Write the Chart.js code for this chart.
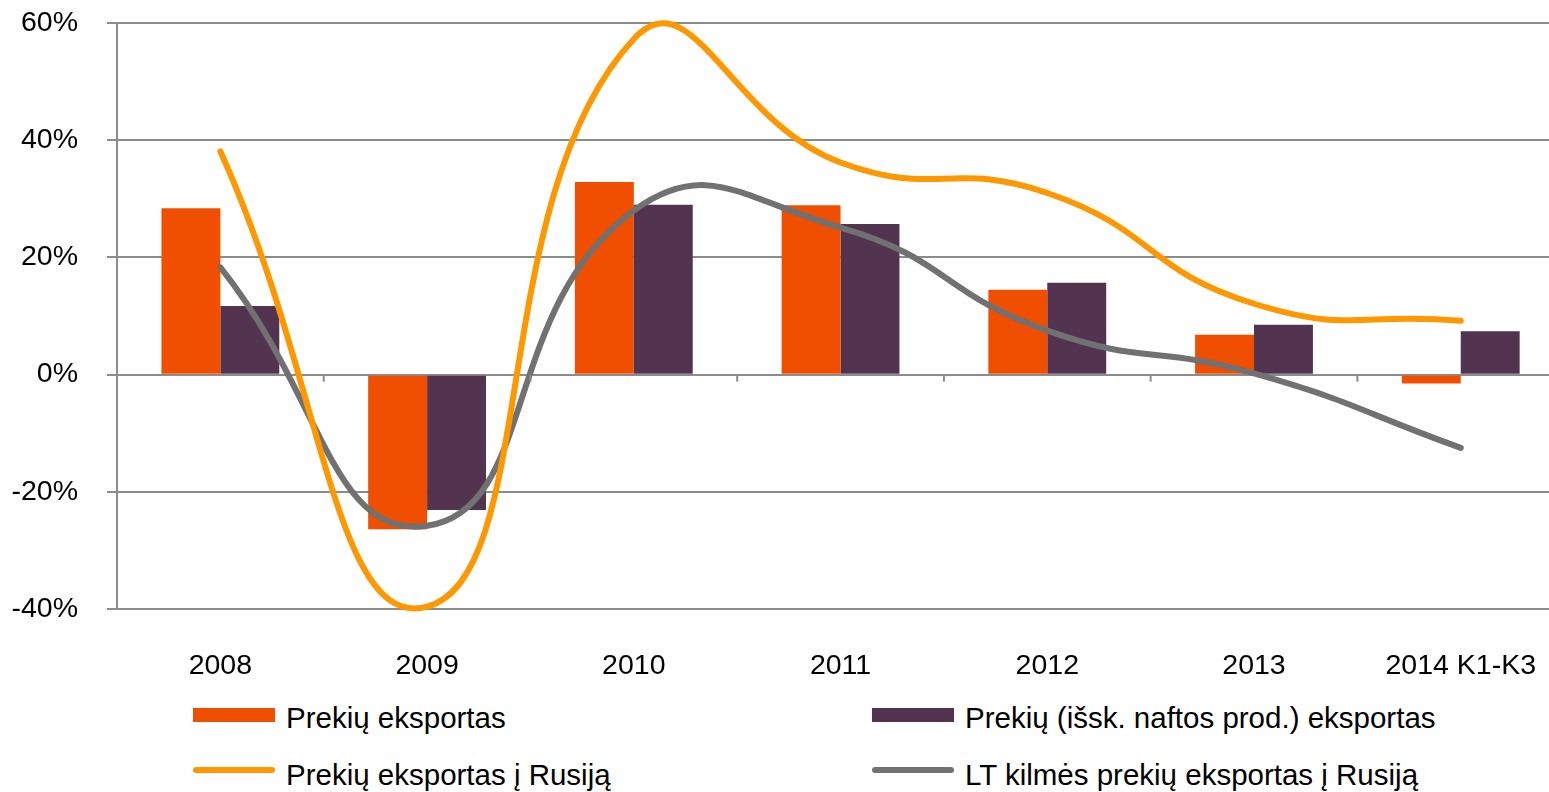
<!DOCTYPE html>
<html>
<head>
<meta charset="utf-8">
<script src="https://cdn.jsdelivr.net/npm/chart.js@4.4.1/dist/chart.umd.min.js"></script>
<style>
  body { margin: 0; background: #fff; overflow: hidden; width: 1549px; height: 792px; position: relative; font-family: "Liberation Sans", Arial, sans-serif; }
  #wrap { position: absolute; left: 0; top: -23px; width: 1576px; height: 723px; }
  .lg { position: absolute; font-size: 29.5px; color: #000; white-space: nowrap; line-height: 30px; }
  .sw { position: absolute; }
</style>
</head>
<body>
<div id="wrap"><canvas id="chart" width="1576" height="723"></canvas></div>

<div class="sw" style="left:193px;top:708px;width:82px;height:14px;background:#F04E00"></div>
<div class="lg" style="left:286px;top:703px">Prekių eksportas</div>
<div class="sw" style="left:872px;top:708px;width:82px;height:14px;background:#523450"></div>
<div class="lg" style="left:965px;top:703px">Prekių (išsk. naftos prod.) eksportas</div>
<div class="sw" style="left:193px;top:767px;width:82px;height:6px;border-radius:3px;background:#FF9800"></div>
<div class="lg" style="left:286px;top:760px">Prekių eksportas į Rusiją</div>
<div class="sw" style="left:872px;top:767px;width:82px;height:6px;border-radius:3px;background:#717171"></div>
<div class="lg" style="left:965px;top:760px">LT kilmės prekių eksportas į Rusiją</div>

<script>
var labels = ['2008', '2009', '2010', '2011', '2012', '2013', '2014 K1-K3'];
var exportsAll = [28.4, -26.4, 32.9, 28.9, 14.5, 6.8, -1.5];
var exportsNoOil = [11.7, -23.1, 29.0, 25.7, 15.7, 8.5, 7.4];
var exportsRussia = [38.1, -39.6, 57.3, 36.2, 31.0, 12.1, 9.2];
var ltOriginRussia = [18.3, -25.8, 28.0, 25.1, 7.5, 0.2, -12.5];

var gridColor = '#8C8C8C';

// small tick marks on the 0% line between categories
var zeroTicks = {
    id: 'zeroTicks',
    afterDatasetsDraw: function(chart) {
        var x = chart.scales.x, y = chart.scales.y;
        var y0 = y.getPixelForValue(0);
        var ctx = chart.ctx;
        ctx.save();
        ctx.strokeStyle = gridColor;
        ctx.lineWidth = 2;
        for (var i = 0; i < labels.length - 1; i++) {
            var bx = (x.getPixelForTick(i) + x.getPixelForTick(i + 1)) / 2;
            ctx.beginPath();
            ctx.moveTo(bx, y0);
            ctx.lineTo(bx, y0 + 7);
            ctx.stroke();
        }
        ctx.restore();
    }
};

new Chart(document.getElementById('chart'), {
    type: 'bar',
    data: {
        labels: labels,
        datasets: [
            {
                type: 'line', label: 'Prekių eksportas į Rusiją', data: exportsRussia,
                borderColor: '#FF9800', borderWidth: 6, pointRadius: 0, tension: 0.5,
                borderCapStyle: 'round', clip: false, order: 0
            },
            {
                type: 'line', label: 'LT kilmės prekių eksportas į Rusiją', data: ltOriginRussia,
                borderColor: '#717171', borderWidth: 6, pointRadius: 0, tension: 0.5,
                borderCapStyle: 'round', clip: false, order: 0
            },
            {
                label: 'Prekių eksportas', data: exportsAll, backgroundColor: '#F04E00',
                categoryPercentage: 0.57, barPercentage: 1, order: 1
            },
            {
                label: 'Prekių (išsk. naftos prod.) eksportas', data: exportsNoOil, backgroundColor: '#523450',
                categoryPercentage: 0.57, barPercentage: 1, order: 1
            }
        ]
    },
    options: {
        responsive: false,
        animation: false,
        devicePixelRatio: 1,
        layout: { padding: { top: 0, left: 0, right: 0, bottom: 0 } },
        elements: { line: { capBezierPoints: false } },
        plugins: { legend: { display: false }, tooltip: { enabled: false } },
        scales: {
            x: {
                grid: { display: false, drawTicks: false },
                border: { display: false },
                ticks: { color: '#000', font: { family: 'Liberation Sans', size: 28.5 }, padding: 40, maxRotation: 0 },
                afterFit: function(s) { s.height = 91; }
            },
            y: {
                min: -40, max: 60,
                ticks: {
                    stepSize: 20, color: '#000', padding: 29,
                    font: { family: 'Liberation Sans', size: 28.5 },
                    callback: function(v) { return v + '%'; }
                },
                grid: { color: gridColor, lineWidth: 2, tickLength: 10, drawTicks: true },
                border: { color: gridColor, width: 2 },
                afterFit: function(s) { s.width = 117; }
            }
        }
    },
    plugins: [zeroTicks]
});
</script>
</body>
</html>
